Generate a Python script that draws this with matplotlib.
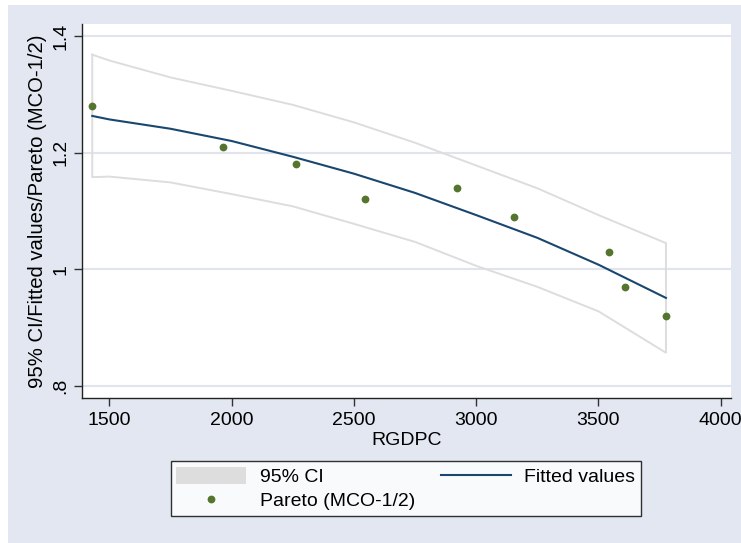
import matplotlib.pyplot as plt
from matplotlib.patches import Rectangle, Patch
from matplotlib.lines import Line2D

# ---------------- DATA ---------------- #

rgdpc = [1430, 1966, 2265, 2544, 2923, 3155, 3544, 3607, 3776]
pareto = [1.28, 1.21, 1.18, 1.12, 1.14, 1.09, 1.03, 0.97, 0.92]

# fitted curve and 95% CI
fit_x = [1430, 1500, 1750, 2000, 2250, 2500, 2750, 3000, 3250, 3500, 3776]
fit_y = [1.263, 1.257, 1.241, 1.220, 1.193, 1.164, 1.131, 1.093, 1.054, 1.008, 0.951]
ci_hi = [1.368, 1.358, 1.329, 1.306, 1.282, 1.252, 1.217, 1.178, 1.139, 1.093, 1.045]
ci_lo = [1.158, 1.159, 1.149, 1.129, 1.108, 1.078, 1.047, 1.006, 0.970, 0.928, 0.857]

yticks = [0.8, 1.0, 1.2, 1.4]
ytick_labels = [".8", "1", "1.2", "1.4"]
xticks = [1500, 2000, 2500, 3000, 3500, 4000]

# ---------------- STYLE ---------------- #

plt.rcParams['font.family'] = ['Liberation Sans', 'DejaVu Sans']
bg = '#e2e7f1'
navy = '#1a476f'
green = '#55752f'
ci_col = '#dddddd'
fs = 14

fig = plt.figure(figsize=(7.41, 5.43), dpi=100, facecolor='white')
fig.patches.append(Rectangle((8 / 741, 0), 1, 1 - 5 / 543, transform=fig.transFigure,
                             facecolor=bg, edgecolor='none', zorder=-10))

ax = fig.add_axes([82 / 741, 1 - 398 / 543, 649 / 741, 374 / 543])
ax.set_facecolor('white')

# ---------------- PLOT ---------------- #

for v in yticks:
    ax.axhline(v, color='#dfe4ef', lw=1.5, zorder=1)

poly_x = fit_x + fit_x[::-1] + [fit_x[0]]
poly_y = ci_hi + ci_lo[::-1] + [ci_hi[0]]
ax.plot(poly_x, poly_y, color=ci_col, lw=1.4, zorder=2)

ax.plot(fit_x, fit_y, color=navy, lw=1.5, zorder=3)
ax.plot(rgdpc, pareto, 'o', color=green, ms=5.6, zorder=4, markeredgewidth=0)

ax.set_xlim(1388, 4042)
ax.set_ylim(0.7794, 1.4206)
ax.set_xticks(xticks)
ax.set_yticks(yticks)
ax.set_yticklabels(ytick_labels, rotation=90, va='center')
ax.tick_params(axis='both', labelsize=fs, length=6, width=1, color='#333333')
ax.tick_params(axis='y', pad=3)
ax.tick_params(axis='x', pad=4)

for s in ['top', 'right']:
    ax.spines[s].set_visible(False)
for s in ['left', 'bottom']:
    ax.spines[s].set_color('#222222')
    ax.spines[s].set_linewidth(1)

ax.set_xlabel("RGDPC", fontsize=fs, labelpad=2)
ax.set_ylabel("95% CI/Fitted values/Pareto (MCO-1/2)", fontsize=14.6, labelpad=4)

handles = [Patch(facecolor=ci_col, edgecolor='none'),
           Line2D([], [], marker='o', ls='none', color=green, ms=5.6, markeredgewidth=0),
           Line2D([], [], color=navy, lw=1.5)]
labels = ["95% CI", "Pareto (MCO-1/2)", "Fitted values"]
leg = fig.legend(handles, labels, ncol=2, loc='center',
                 bbox_to_anchor=(405.8 / 741, 1 - 488.8 / 543),
                 fontsize=fs, frameon=True, fancybox=False, edgecolor='black',
                 handlelength=3.6, handleheight=0.95, handletextpad=0.7,
                 columnspacing=1.3, borderpad=0.3, labelspacing=0.25,
                 borderaxespad=0)
leg.get_frame().set_linewidth(1)

plt.savefig("out.png", dpi=100, facecolor=fig.get_facecolor())
